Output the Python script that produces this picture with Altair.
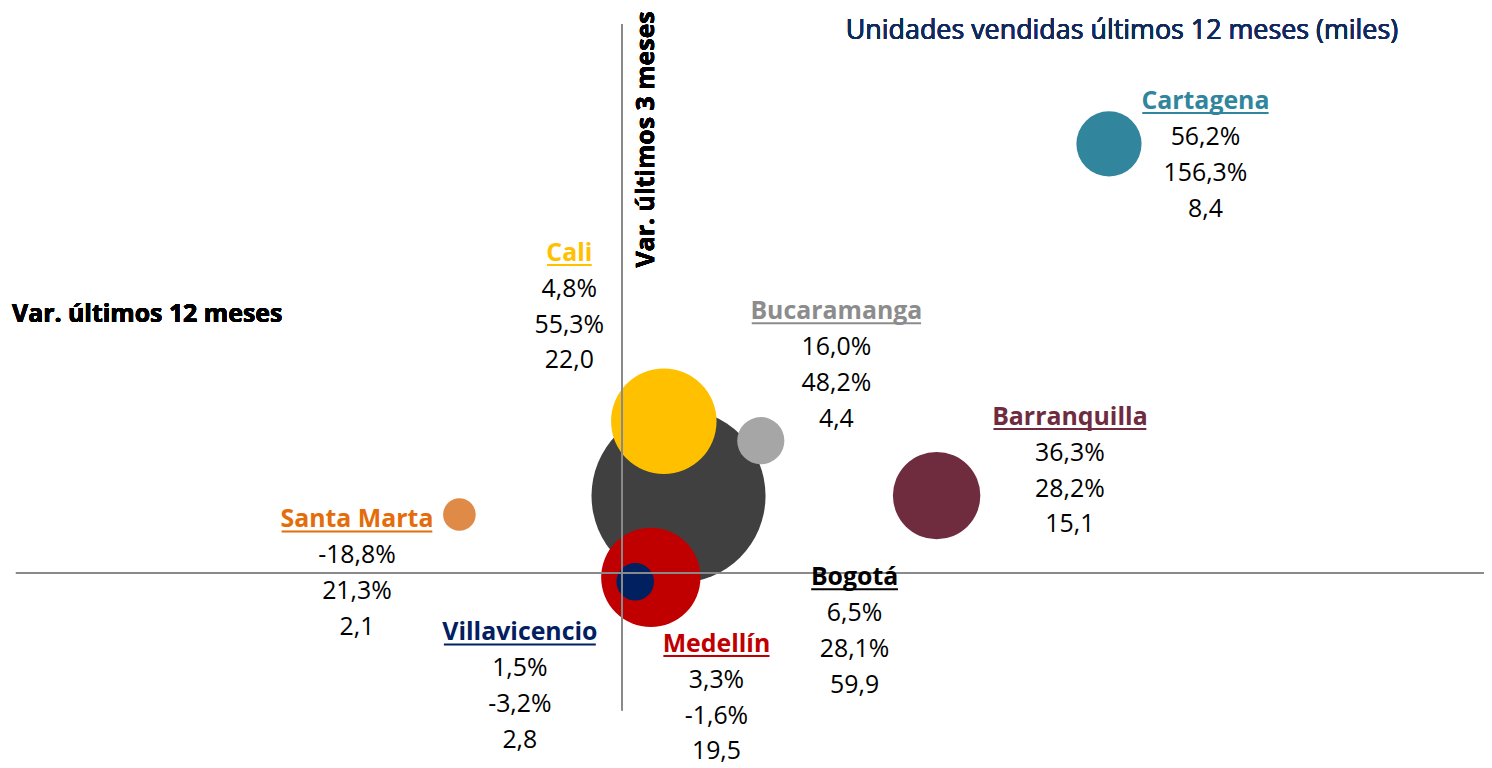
import altair as alt
import pandas as pd

# ---------------- data ----------------
cities = ["Bogotá", "Cali", "Medellín", "Barranquilla", "Cartagena",
          "Bucaramanga", "Villavicencio", "Santa Marta"]
var_12m = [6.5, 4.8, 3.3, 36.3, 56.2, 16.0, 1.5, -18.8]      # Var. últimos 12 meses (%)
var_3m = [28.1, 55.3, -1.6, 28.2, 156.3, 48.2, -3.2, 21.3]   # Var. últimos 3 meses (%)
unidades = [59.9, 22.0, 19.5, 15.1, 8.4, 4.4, 2.8, 2.1]      # Unidades vendidas 12m (miles)

# ---------------- styles / layout ----------------
bubble_colors = ["#404040", "#FFC000", "#C00000", "#6F2C3F", "#31859C",
                 "#A6A6A6", "#002060", "#DF8A47"]
label_colors = ["#000000", "#FFC000", "#C00000", "#6F2C3F", "#31859C",
                "#8C8C8C", "#002060", "#E46C0A"]
label_dx = [177, -95, 66, 134, 97, 76, -116, -103]   # label offset from bubble (px)
label_dy = [82, -169, 67, -79, -43, -130, 51, 5]

FONT = "Open Sans"
FS = 25          # numbers
FS_NAME = 25     # city names
LINE = 36
W, H = 1476, 690
X_DOM = [-70, 99.5]
Y_DOM = [-50, 200]
PXX = (X_DOM[1] - X_DOM[0]) / W
PXY = (Y_DOM[1] - Y_DOM[0]) / H
MAX_D = 175      # diameter (px) of the largest bubble

# approximate bold glyph advance widths (em) used only to size underlines
BOLD_W = {"B": .67, "C": .63, "M": .93, "S": .55, "V": .64, "a": .59, "á": .59,
          "c": .50, "d": .64, "e": .59, "g": .56, "i": .29, "í": .29, "l": .29,
          "m": .97, "n": .65, "o": .62, "q": .64, "r": .45, "t": .43, "u": .65,
          "v": .57, " ": .26}


def fmt(v, pct=True):
    s = f"{v:.1f}".replace(".", ",")
    return s + "%" if pct else s


df = pd.DataFrame({
    "city": cities, "x": var_12m, "y": var_3m, "u": unidades,
    "bcol": bubble_colors, "lcol": label_colors,
    "dx": label_dx, "dy": label_dy,
    "l1": [fmt(v) for v in var_12m],
    "l2": [fmt(v) for v in var_3m],
    "l3": [fmt(v, False) for v in unidades],
    "nw": [sum(BOLD_W.get(c, .6) for c in name) * FS_NAME for name in cities],
})

xs = alt.Scale(domain=X_DOM, nice=False, zero=False)
ys = alt.Scale(domain=Y_DOM, nice=False, zero=False)

base = alt.Chart(df).transform_calculate(
    lx=f"datum.x + datum.dx * {PXX}",
    ly=f"datum.y - datum.dy * {PXY}",
)

bubbles = alt.Chart(df).mark_circle(opacity=1, clip=False).encode(
    x=alt.X("x:Q", scale=xs, axis=None),
    y=alt.Y("y:Q", scale=ys, axis=None),
    size=alt.Size("u:Q", scale=alt.Scale(domain=[0, max(unidades)],
                                         range=[0, MAX_D ** 2]),
                  legend=None),
    color=alt.Color("bcol:N", scale=None),
    order=alt.Order("u:Q", sort="descending"),
)

# axis lines through zero
hline = alt.Chart(df).mark_rule(color="#8A8A8A", strokeWidth=1.5).encode(
    y=alt.datum(0))
vline = alt.Chart(df).mark_rule(color="#8A8A8A", strokeWidth=1.5).encode(
    x=alt.datum(0))

names = base.mark_text(font=FONT, fontSize=FS_NAME, fontWeight="bold",
                       align="center", baseline="middle", clip=False).encode(
    x=alt.X("lx:Q"), y=alt.Y("ly:Q"),
    text="city:N", color=alt.Color("lcol:N", scale=None))

underline = base.transform_calculate(
    ux1=f"datum.lx - datum.nw / 2 * {PXX}",
    ux2=f"datum.lx + datum.nw / 2 * {PXX}",
    uy=f"datum.y - (datum.dy + 12) * {PXY}",
).mark_rule(strokeWidth=2, clip=False).encode(
    x=alt.X("ux1:Q"), x2="ux2:Q",
    y=alt.Y("uy:Q"), color=alt.Color("lcol:N", scale=None))

numbers = base.transform_fold(["l1", "l2", "l3"], as_=["k", "txt"]).transform_calculate(
    kn="datum.k == 'l1' ? 1 : (datum.k == 'l2' ? 2 : 3)",
).transform_calculate(
    ny=f"datum.y - (datum.dy + {LINE} * datum.kn) * {PXY}",
).mark_text(font=FONT, fontSize=FS, color="#000000", align="center",
            baseline="middle", clip=False).encode(
    x=alt.X("lx:Q"), y=alt.Y("ny:Q"), text="txt:N")

title_top = alt.Chart(df).mark_text(
    text="Unidades vendidas últimos 12 meses (miles)", font=FONT, fontSize=27,
    color="#102A5C", align="center", baseline="middle").encode(
    x=alt.value(1112), y=alt.value(7))
title_x = alt.Chart(df).mark_text(
    text="Var. últimos 12 meses", font=FONT, fontSize=25, fontWeight="bold",
    color="#000000", align="left", baseline="middle").encode(
    x=alt.value(-4), y=alt.value(292))
title_y = alt.Chart(df).mark_text(
    text="Var. últimos 3 meses", font=FONT, fontSize=25, fontWeight="bold",
    color="#000000", align="center", baseline="middle", angle=270).encode(
    x=alt.value(633), y=alt.value(116))

chart = alt.layer(
    bubbles, hline, vline, underline, names, numbers, title_top, title_x, title_y
).properties(
    width=W, height=H,
    padding={"left": 8, "top": 14, "right": 0, "bottom": 56},
    autosize=alt.AutoSizeParams(type="none"),
).configure_view(stroke=None)

chart.save("out.html", embed_options={"renderer": "svg", "actions": False})
